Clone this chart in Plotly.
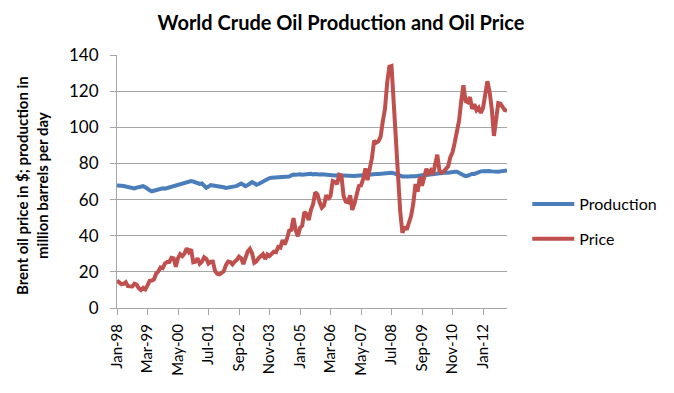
import plotly.graph_objects as go

months = ["Jan", "Feb", "Mar", "Apr", "May", "Jun", "Jul", "Aug", "Sep", "Oct", "Nov", "Dec"]
years = list(range(1998, 2013))
categories = [f"{m}-{str(y)[2:]}" for y in years for m in months]

production = [
    67.8, 67.9, 67.6, 67.5, 67.2, 66.8, 66.3, 66.0, 66.2, 66.6, 67.0, 67.3,
    67.4, 66.8, 65.8, 65.2, 64.6, 65.0, 65.5, 65.6, 65.9, 66.2, 66.0, 66.4,
    66.5, 66.9, 67.4, 67.9, 68.3, 68.6, 69.0, 69.3, 69.5, 69.8, 70.2, 70.0,
    69.6, 69.2, 68.7, 68.9, 67.8, 66.5, 67.2, 68.0, 67.8, 67.6, 67.8, 67.4,
    67.2, 66.8, 66.4, 66.5, 66.8, 67.1, 67.3, 67.6, 68.3, 68.9, 68.2, 67.4,
    68.0, 68.8, 69.7, 69.0, 68.2, 68.6, 69.3, 70.2, 70.9, 71.4, 71.9, 72.1,
    72.2, 72.0, 72.3, 72.6, 72.5, 72.8, 73.0, 72.8, 73.4, 73.9, 73.8, 74.0,
    74.0, 73.8, 74.1, 74.3, 74.2, 74.3, 73.9, 74.1, 73.8, 73.9, 74.0, 73.8,
    73.9, 73.7, 73.6, 73.5, 73.3, 73.4, 73.3, 73.5, 73.3, 73.1, 73.2, 73.0,
    73.1, 73.0, 73.2, 73.1, 73.3, 73.4, 73.6, 73.8, 74.0, 74.2, 74.3, 74.2,
    74.1, 74.3, 74.4, 74.3, 74.5, 74.6, 74.8, 74.6, 74.3, 73.8, 73.2, 72.8,
    72.7, 72.5, 72.8, 72.9, 72.7, 72.9, 73.1, 73.4, 73.5, 73.7, 73.6, 73.8,
    74.0, 74.2, 74.4, 74.5, 74.7, 74.6, 74.9, 75.0, 74.8, 75.1, 75.3, 75.4,
    75.4, 75.0, 74.2, 73.5, 73.0, 73.2, 73.8, 74.3, 74.2, 74.8, 75.3, 75.6,
    75.7, 75.9, 76.0, 75.8, 75.6, 75.4, 75.5, 75.4, 75.6, 75.8, 75.9, 76.1,
]

price = [
    15.2, 14.0, 13.2, 13.4, 14.3, 12.1, 12.0, 11.9, 13.4, 12.9, 11.0, 9.9,
    11.1, 10.3, 12.5, 15.0, 15.2, 15.9, 19.1, 20.3, 22.5, 22.1, 24.6, 25.5,
    25.5, 27.8, 27.5, 22.8, 27.6, 29.8, 28.7, 30.2, 33.1, 30.9, 32.5, 25.3,
    25.6, 27.5, 24.5, 25.7, 28.1, 27.2, 24.6, 25.6, 25.7, 20.5, 18.9, 18.6,
    19.4, 20.3, 23.7, 25.7, 25.4, 24.1, 25.7, 26.6, 28.4, 27.5, 24.3, 28.0,
    31.3, 32.7, 30.3, 25.0, 25.8, 27.6, 28.4, 29.8, 27.1, 29.6, 28.8, 29.8,
    31.2, 30.9, 33.8, 33.4, 37.6, 35.2, 38.2, 42.7, 43.2, 49.8, 43.1, 39.7,
    44.3, 45.6, 53.1, 51.9, 48.7, 54.3, 57.5, 64.0, 62.9, 58.5, 55.5, 56.7,
    62.5, 60.0, 62.1, 70.3, 69.8, 68.6, 73.7, 73.2, 62.0, 58.9, 58.5, 62.3,
    54.3, 57.8, 62.1, 67.5, 67.9, 71.3, 77.2, 70.8, 77.1, 82.9, 92.5, 91.5,
    92.2, 94.8, 103.3, 110.2, 124.6, 133.5, 133.9, 113.0, 99.0, 72.8, 53.2, 41.6,
    44.9, 43.4, 47.7, 51.0, 57.9, 68.6, 64.4, 72.5, 67.7, 73.2, 77.0, 74.7,
    76.2, 73.8, 78.8, 84.8, 75.9, 74.8, 75.6, 77.1, 78.4, 83.5, 86.1, 91.5,
    96.5, 103.7, 114.6, 123.3, 114.5, 113.9, 116.7, 110.2, 112.8, 109.5, 110.8, 107.9,
    110.7, 119.3, 125.5, 119.8, 110.3, 95.2, 102.6, 113.4, 113.0, 111.5, 109.5, 109.2,
]

tick_labels = categories[::14]
y_ticks = [0, 20, 40, 60, 80, 100, 120, 140]

FONT = "Lato, Open Sans, sans-serif"
GRID = "#a6a6a6"

fig = go.Figure()
fig.add_trace(go.Scatter(x=categories, y=production, mode="lines", name="Production",
                         legendgroup="a", line=dict(color="#4A7EBB", width=4)))
fig.add_trace(go.Scatter(x=categories, y=price, mode="lines", name="Price",
                         legendgroup="b", line=dict(color="#C0504D", width=4)))

# page body has an 8px default margin, so the figure is sized to fit within the window
fig.update_layout(
    width=666, height=385,
    margin=dict(l=109, r=163, t=47, b=85),
    paper_bgcolor="white", plot_bgcolor="white",
    font=dict(family=FONT, color="black", size=16),
    title=dict(text="<b>World Crude Oil Production and Oil Price</b>",
               x=0.5, xanchor="center", y=0.962, yanchor="middle",
               font=dict(size=20, family=FONT)),
    legend=dict(x=1.052, xanchor="left", y=0.478, yanchor="top",
                traceorder="grouped", tracegroupgap=11, itemwidth=42,
                font=dict(size=16), bgcolor="rgba(0,0,0,0)"),
    xaxis=dict(type="category", range=[0, len(categories) - 1],
               tickmode="array", tickvals=tick_labels, ticktext=tick_labels,
               tickangle=-90, tickfont=dict(size=15),
               showgrid=False, showline=True, linecolor=GRID, linewidth=1,
               ticks="outside", ticklen=6, tickcolor=GRID, zeroline=False,
               ticklabelstandoff=3),
    yaxis=dict(range=[0, 140], tickvals=y_ticks, tickfont=dict(size=17),
               showgrid=True, gridcolor=GRID, gridwidth=1,
               showline=True, linecolor=GRID, linewidth=1,
               ticks="outside", ticklen=6, tickcolor=GRID, zeroline=False,
               ticklabelstandoff=8),
    annotations=[dict(text="<b>Brent oil price in $; production in<br>million barrels per day</b>",
                      xref="paper", yref="paper", x=-0.216, y=0.485,
                      xanchor="center", yanchor="middle", textangle=-90,
                      showarrow=False, font=dict(size=15, family=FONT))],
)

fig.write_html("out.html")
